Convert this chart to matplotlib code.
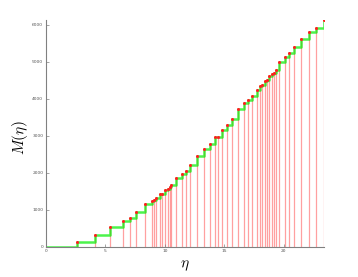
import matplotlib
matplotlib.use("Agg")
import matplotlib.pyplot as plt
import numpy as np

plt.rcParams['mathtext.fontset'] = 'cm'

eta = [2.6, 4.15, 5.4, 6.44, 7.08, 7.6, 8.33, 8.9, 9.13, 9.3, 9.6, 9.8, 10.02,
       10.23, 10.4, 10.55, 10.95, 11.42, 11.8, 12.12, 12.75, 13.34, 13.78, 14.23,
       14.5, 14.8, 15.2, 15.63, 16.19, 16.68, 17.02, 17.35, 17.8, 18.04, 18.2,
       18.44, 18.6, 18.8, 19.03, 19.2, 19.33, 19.65, 20.1, 20.48, 20.9, 21.5,
       22.1, 22.7, 23.4]
M = [120, 325, 524, 703, 785, 938, 1140, 1243, 1253, 1316, 1424, 1432, 1525,
     1565, 1605, 1668, 1849, 1975, 2054, 2208, 2455, 2649, 2768, 2965,
     2973, 3154, 3275, 3460, 3730, 3875, 3955, 4070, 4245, 4330, 4370,
     4478, 4497, 4600, 4670, 4703, 4780, 4995, 5127, 5227, 5397, 5605,
     5795, 5911, 6119]
xticks = [0, 5, 10, 15, 20]
yticks = [0, 1000, 2000, 3000, 4000, 5000, 6000]

fig = plt.figure(figsize=(3.58, 2.77), dpi=100)
ax = fig.add_axes([0.1285, 0.1094, 0.7765, 0.818])

ax.vlines(eta, 0, M, colors='#ff8080', linewidth=0.9, alpha=0.75, zorder=1)
sx = [0] + eta
sy = [0] + M
ax.step(sx, sy, where='post', color='#00ee00', linewidth=1.8, alpha=0.7, zorder=2)
ax.plot(eta, M, 'o', color='#ff2020', markersize=2.2, markeredgewidth=0, zorder=3)

ax.set_xlim(0, max(eta))
ax.set_ylim(0, max(M))
ax.set_xticks(xticks)
ax.set_yticks(yticks)
for s in ['top', 'right']:
    ax.spines[s].set_visible(False)
for s in ['left', 'bottom']:
    ax.spines[s].set_color('#808080')
    ax.spines[s].set_linewidth(0.8)
ax.tick_params(direction='in', length=2.5, width=0.5, colors='#808080',
               labelsize=3.2, labelcolor='#555555', pad=2)
ax.set_xlabel(r'$\eta$', fontsize=11)
ax.set_ylabel(r'$M(\eta)$', fontsize=11)
ax.xaxis.set_label_coords(0.5, -0.05)
ax.yaxis.set_label_coords(-0.058, 0.48)

fig.savefig('out.png', dpi=100)
